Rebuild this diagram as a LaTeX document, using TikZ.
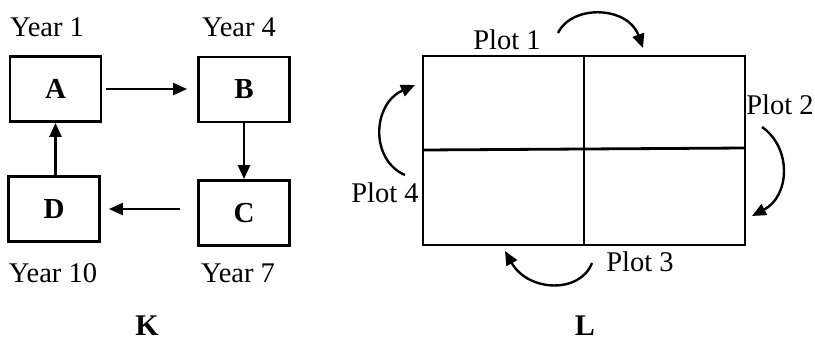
\documentclass[tikz,border=0pt]{standalone}
\usepackage{fontspec}
\setmainfont{Liberation Serif}
\usetikzlibrary{arrows.meta}
\begin{document}
\begin{tikzpicture}[x=1pt,y=-1pt,
  yearbox/.style={draw,line width=2.8pt,minimum width=91pt,minimum height=65pt,inner sep=0pt,font=\fontsize{29}{30}\selectfont\bfseries},
  lbl/.style={inner sep=0pt,font=\fontsize{28.5}{30}\selectfont},
  panel/.style={inner sep=0pt,font=\fontsize{30}{30}\selectfont\bfseries},
  arr/.style={line width=2.4pt,-{Triangle[length=14pt,width=12pt]}},
  grid/.style={line width=2.8pt}]
\useasboundingbox (0,0) rectangle (815,341);
% K diagram
\node[yearbox] (A) at (55.5,89) {A};
\node[yearbox] (B) at (244,89.5) {B};
\node[yearbox] (C) at (244,213) {C};
\node[yearbox] (D) at (54,209) {D};
\node[lbl] (y1) at (47,27) {Year 1};
\node[lbl] (y4) at (239,27) {Year 4};
\node[lbl] (y10) at (53,273) {Year 10};
\node[lbl] (y7) at (238,273) {Year 7};
\node[panel] (K) at (147,326) {K};
\draw[arr] ([xshift=4pt]A.east) -- ([xshift=-10pt]B.west |- A.east);
\draw[arr] (B.south) -- (C.north);
\draw[arr] ([xshift=-17pt]C.west |- D.east) -- ([xshift=8pt]D.east);
\draw[arr] (D.north -| A.south) -- (A.south);
% L diagram
\coordinate (tl) at (423,56);
\coordinate (br) at (745,245);
\draw[grid] (tl) rectangle (br);
\draw[grid] (584,56) -- (584,245);
\draw[grid] (423,150) -- (745,148);
\node[lbl] (p1) at (507,40) {Plot 1};
\node[lbl] (p2) at (780,105) {Plot 2};
\node[lbl] (p3) at (640,262) {Plot 3};
\node[lbl] (p4) at (385,193) {Plot 4};
\node[panel] (L) at (585,326) {L};
\coordinate (a1s) at (558,33); \coordinate (a1e) at (643,48);
\coordinate (a2s) at (762,127); \coordinate (a2e) at (752,216);
\coordinate (a3s) at (592,263); \coordinate (a3e) at (505,251);
\coordinate (a4s) at (405,175); \coordinate (a4e) at (415,85);
\draw[arr] (a1s) .. controls (572,4) and (628,6) .. (a1e);
\draw[arr] (a2s) .. controls (792,148) and (790,196) .. (a2e);
\draw[arr] (a3s) .. controls (580,294) and (528,292) .. (a3e);
\draw[arr] (a4s) .. controls (370,160) and (372,104) .. (a4e);
\end{tikzpicture}
\end{document}
